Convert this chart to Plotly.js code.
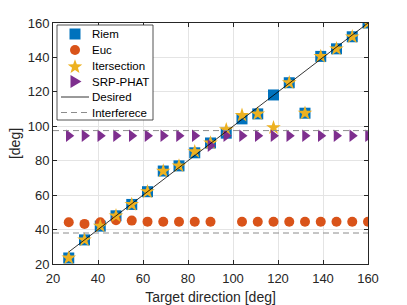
<!DOCTYPE html>
<html>
<head>
<meta charset="utf-8">
<script src="https://cdn.plot.ly/plotly-3.0.1.min.js"></script>
<style>html,body{margin:0;padding:0;background:#fff}#chart{width:407px;height:305px}</style>
</head>
<body>
<div id="chart"></div>
<script>
var targetDirection = [27, 34, 41, 48, 55, 62, 69, 76, 83, 90, 97, 104, 111, 118, 125, 132, 139, 146, 153, 160];
var riem       = [23.5, 34, 42, 48, 54.6, 62, 74, 77, 84.6, 90.3, 96, 104.3, 107.2, 118.2, 125.3, 107.6, 140.6, 145, 152, 160];
var euc        = [44.3, 43.3, 44.3, 45.4, 45.2, 44.6, 44.5, 44.5, 44.5, 44.5, null, 44.5, 44.5, 44.5, 44.5, 44.5, 44.5, 44.5, 44.5, 44.5];
var itersection= [23.5, 34, 42, 48, 54.6, 62, 74, 77, 85.3, 90.3, 98, 106.4, 107.2, 99.2, 125.3, 107.6, 140.6, 145, 152, 160];
var srpPhat    = [94.5, 94.5, 94.5, 94.5, 94.5, 94.5, 94.5, 94.5, 94.5, 88.8, 94.5, 94.5, 94.5, 94.5, 94.5, 94.5, 94.5, 94.5, 94.5, 94.5];
var desired    = targetDirection.slice();
var interferenceLevels = [97.5, 38];
var axisRange  = [20, 160];
var tickValues = [20, 40, 60, 80, 100, 120, 140, 160];
var legendNames = ['Riem', 'Euc', 'Itersection', 'SRP-PHAT', 'Desired', 'Interferece'];

var C = {riem: '#0072BD', euc: '#D95319', iter: '#EDB120', srp: '#7E2F8E', ink: '#262626'};
var fontFam = '"Liberation Sans", Arial, Helvetica, sans-serif';
var W = 407, H = 305, M = {l: 53, r: 39, t: 23, b: 41};
var PW = W - M.l - M.r, PH = H - M.t - M.b;
function px(x) { return (x - M.l) / PW; }
function py(y) { return (H - M.b - y) / PH; }

var traces = [
  {x: targetDirection, y: riem, name: legendNames[0], mode: 'markers', type: 'scatter',
   marker: {symbol: 'square', size: 11, color: C.riem, line: {width: 0}}},
  {x: targetDirection, y: euc, name: legendNames[1], mode: 'markers', type: 'scatter',
   marker: {symbol: 'circle', size: 10, color: C.euc, line: {width: 0}}},
  {x: targetDirection, y: itersection, name: legendNames[2], mode: 'markers', type: 'scatter',
   marker: {symbol: 'star', size: 11, color: C.iter, line: {width: 0}}},
  {x: targetDirection, y: srpPhat, name: legendNames[3], mode: 'markers', type: 'scatter',
   marker: {symbol: 'triangle-right', size: 11, color: C.srp, line: {width: 0}}},
  {x: targetDirection, y: desired, name: legendNames[4], mode: 'lines', type: 'scatter',
   line: {color: '#000000', width: 0.8}}
];
interferenceLevels.forEach(function(v) {
  traces.push({x: axisRange, y: [v, v], name: legendNames[5], mode: 'lines', type: 'scatter',
    line: {color: '#8c8c8c', width: 1, dash: '6px,4px'}});
});

// ---- legend box drawn as layout decoration (MATLAB-style compact legend) ----
var LB = {x0: 57, x1: 153, y0: 25, y1: 120};
var rowY = [34, 50, 66, 81.5, 97, 112.5];
var symX = 75, textX = 90;
var shapes = [];
var annotations = [];
shapes.push({type: 'rect', xref: 'paper', yref: 'paper', layer: 'above',
  x0: px(LB.x0), x1: px(LB.x1), y0: py(LB.y1), y1: py(LB.y0),
  fillcolor: '#ffffff', line: {color: C.ink, width: 0.8}});
shapes.push({type: 'rect', xref: 'paper', yref: 'paper', layer: 'above',
  x0: px(symX - 5.5), x1: px(symX + 5.5), y0: py(rowY[0] + 5.5), y1: py(rowY[0] - 5.5),
  fillcolor: C.riem, line: {width: 0}});
shapes.push({type: 'circle', xref: 'paper', yref: 'paper', layer: 'above',
  x0: px(symX - 5), x1: px(symX + 5), y0: py(rowY[1] + 5), y1: py(rowY[1] - 5),
  fillcolor: C.euc, line: {width: 0}});
(function() {
  var R = 7.6, r = 3.1, cy = rowY[2] + 0.8, d = '';
  for (var k = 0; k < 10; k++) {
    var rad = (k % 2 === 0) ? R : r;
    var a = -Math.PI / 2 + k * Math.PI / 5;
    var X = symX + rad * Math.cos(a), Y = cy + rad * Math.sin(a);
    d += (k === 0 ? 'M' : 'L') + px(X).toFixed(5) + ',' + py(Y).toFixed(5);
  }
  shapes.push({type: 'path', xref: 'paper', yref: 'paper', layer: 'above', path: d + 'Z',
    fillcolor: C.iter, line: {width: 0}});
})();
shapes.push({type: 'path', xref: 'paper', yref: 'paper', layer: 'above',
  path: 'M' + px(symX - 4.5) + ',' + py(rowY[3] - 6.5) + 'L' + px(symX - 4.5) + ',' + py(rowY[3] + 6.5) +
        'L' + px(symX + 6.5) + ',' + py(rowY[3]) + 'Z',
  fillcolor: C.srp, line: {width: 0}});
shapes.push({type: 'line', xref: 'paper', yref: 'paper', layer: 'above',
  x0: px(61), x1: px(89), y0: py(rowY[4]), y1: py(rowY[4]), line: {color: '#000000', width: 0.8}});
shapes.push({type: 'line', xref: 'paper', yref: 'paper', layer: 'above',
  x0: px(61), x1: px(89), y0: py(rowY[5]), y1: py(rowY[5]), line: {color: '#8c8c8c', width: 1, dash: '6px,4px'}});
legendNames.forEach(function(n, i) {
  annotations.push({xref: 'paper', yref: 'paper', x: px(textX), y: py(rowY[i]),
    xanchor: 'left', yanchor: 'middle', showarrow: false, text: n,
    font: {family: fontFam, size: 11.5, color: '#000000'}});
});

var axisCommon = {
  range: axisRange, tickvals: tickValues, showgrid: true, gridcolor: '#e4e4e4', gridwidth: 1,
  zeroline: false, showline: true, linecolor: C.ink, linewidth: 1, mirror: 'ticks',
  ticks: 'inside', ticklen: 4, tickcolor: C.ink,
  tickfont: {family: fontFam, size: 13, color: C.ink}
};
var layout = {
  width: W, height: H,
  margin: M,
  paper_bgcolor: '#ffffff', plot_bgcolor: '#ffffff',
  showlegend: false,
  xaxis: Object.assign({}, axisCommon, {
    ticklabelstandoff: 2,
    title: {text: 'Target direction [deg]', font: {family: fontFam, size: 14, color: C.ink}, standoff: 7}
  }),
  yaxis: Object.assign({}, axisCommon, {
    title: {text: '[deg]', font: {family: fontFam, size: 14, color: C.ink}, standoff: 3}
  }),
  shapes: shapes,
  annotations: annotations
};
Plotly.newPlot('chart', traces, layout, {displayModeBar: false, staticPlot: true});
</script>
</body>
</html>
